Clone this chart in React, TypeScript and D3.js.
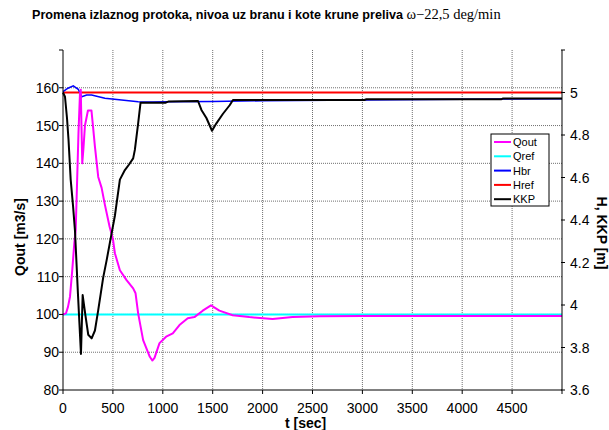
import React from "react";
import * as d3 from "d3";

// ---- data ----
const xTicks = [0, 500, 1000, 1500, 2000, 2500, 3000, 3500, 4000, 4500];
const leftTicks = [80, 90, 100, 110, 120, 130, 140, 150, 160];
const rightTicks = [3.6, 3.8, 4.0, 4.2, 4.4, 4.6, 4.8, 5.0];

const qoutT = [0, 30, 50, 70, 93, 113, 127, 140, 155, 170, 178, 185, 193, 205, 220, 250, 285, 300, 320, 353, 387, 420, 467, 500, 520, 570, 637, 703, 727, 753, 803, 870, 895, 917, 967, 1033, 1100, 1167, 1250, 1317, 1400, 1483, 1567, 1700, 1867, 2100, 2300, 2567, 3000, 4000, 5000];
const qoutV = [100, 100.3, 102, 104.7, 111.8, 118.8, 122.3, 134, 148, 158.5, 159.5, 150, 140, 144, 150, 154, 154, 150, 144.4, 136.4, 133.5, 129, 123.2, 120, 116.2, 111.7, 109.1, 106.9, 105.6, 100.3, 93.2, 88.8, 87.8, 88.5, 92.4, 94.1, 95, 97.2, 99, 99.3, 101, 102.4, 101, 99.8, 99.3, 98.8, 99.3, 99.5, 99.6, 99.6, 99.6];

const qref = 100;
const href = 5.0;

const hbrT = [0, 50, 103, 153, 187, 237, 287, 420, 587, 753, 900, 1050, 1500, 2000, 3000, 4000, 5000];
const hbrV = [5.004, 5.02, 5.031, 5.015, 4.98, 4.988, 4.988, 4.973, 4.965, 4.957, 4.955, 4.957, 4.958, 4.961, 4.965, 4.968, 4.97];

const kkpT = [0, 20, 40, 55, 77, 100, 120, 150, 180, 197, 225, 253, 287, 320, 353, 403, 437, 487, 520, 570, 620, 660, 703, 720, 753, 777, 1030, 1060, 1353, 1387, 1437, 1493, 1537, 1603, 1670, 1703, 3020, 3040, 4390, 4410, 5000];
const kkpV = [5.0, 4.98, 4.88, 4.78, 4.59, 4.47, 4.35, 4.05, 3.77, 4.047, 3.95, 3.86, 3.843, 3.88, 3.976, 4.13, 4.21, 4.337, 4.42, 4.59, 4.635, 4.66, 4.69, 4.73, 4.855, 4.952, 4.952, 4.958, 4.96, 4.918, 4.88, 4.82, 4.855, 4.9, 4.94, 4.965, 4.965, 4.968, 4.968, 4.972, 4.972];

const legendNames = ["Qout", "Qref", "Hbr", "Href", "KKP"];
const legendColors = ["#ff00ff", "#00ffff", "#0000ff", "#ff0000", "#000000"];

export default function App() {
  const W = 609, H = 430;
  const L = 63, R = 562, T = 50, B = 390;
  const x = d3.scaleLinear().domain([0, 5000]).range([L, R]);
  const yL = d3.scaleLinear().domain([80, 170]).range([B, T]);
  const yR = d3.scaleLinear().domain([3.6, 5.2]).range([B, T]);
  const font = "Liberation Sans, Arial, sans-serif";

  const lineL = d3.line<[number, number]>().x(d => x(d[0])).y(d => yL(d[1]));
  const lineR = d3.line<[number, number]>().x(d => x(d[0])).y(d => yR(d[1]));
  const qout = lineL(qoutT.map((t, i) => [t, qoutV[i]]))!;
  const hbr = lineR(hbrT.map((t, i) => [t, hbrV[i]]))!;
  const kkp = lineR(kkpT.map((t, i) => [t, kkpV[i]]))!;

  const fmtR = (v: number) => String(Math.round(v * 10) / 10);

  return (
    <svg width={W} height={H} style={{ position: "absolute", left: 0, top: 0, background: "#fff" }}>
      <rect x={0} y={0} width={W} height={H} fill="#fff" />
      {/* title */}
      <text x={32} y={19} fontFamily={font} fontSize={12.6} fontWeight="bold" fill="#000">
        Promena izlaznog protoka, nivoa uz branu i kote krune preliva{" "}
        <tspan fontFamily="Liberation Serif, Times New Roman, serif" fontWeight="normal" fontSize={14.5}>ω−22,5 deg/min</tspan>
      </text>

      {/* grid */}
      {leftTicks.filter(v => v > 80).map(v => (
        <line key={"gh" + v} x1={L} x2={R} y1={yL(v)} y2={yL(v)} stroke="#707070" strokeWidth={1} strokeDasharray="1,1" />
      ))}
      {xTicks.filter(v => v > 0).map(v => (
        <line key={"gv" + v} x1={x(v)} x2={x(v)} y1={T} y2={B} stroke="#707070" strokeWidth={1} strokeDasharray="1,1" />
      ))}

      {/* series */}
      <line x1={x(0)} x2={x(5000)} y1={yL(qref)} y2={yL(qref)} stroke="#00ffff" strokeWidth={2} />
      <line x1={x(0)} x2={x(5000)} y1={yR(href)} y2={yR(href)} stroke="#ff0000" strokeWidth={2} />
      <path d={hbr} fill="none" stroke="#0000ff" strokeWidth={1.5} />
      <path d={qout} fill="none" stroke="#ff00ff" strokeWidth={2} strokeLinejoin="round" />
      <path d={kkp} fill="none" stroke="#000000" strokeWidth={2} strokeLinejoin="round" />

      {/* axes */}
      <line x1={L} x2={L} y1={T} y2={B} stroke="#000" strokeWidth={1} />
      <line x1={R} x2={R} y1={T} y2={B} stroke="#000" strokeWidth={1} />
      <line x1={L} x2={R} y1={B} y2={B} stroke="#000" strokeWidth={1} />
      {[...leftTicks, 170].map(v => (
        <line key={"lt" + v} x1={L - 4} x2={L} y1={yL(v)} y2={yL(v)} stroke="#000" />
      ))}
      {leftTicks.map(v => (
        <text key={"ll" + v} x={L - 4} y={yL(v)} dy="0.36em" textAnchor="end" fontFamily={font} fontSize={14}>{v}</text>
      ))}
      {[...rightTicks, 5.2].map(v => (
        <line key={"rt" + v} x1={R - 1} x2={R + 3} y1={yR(v)} y2={yR(v)} stroke="#000" />
      ))}
      {rightTicks.map(v => (
        <text key={"rl" + v} x={R + 8} y={yR(v)} dy="0.36em" textAnchor="start" fontFamily={font} fontSize={14}>{fmtR(v)}</text>
      ))}
      {[...xTicks, 5000].map(v => (
        <line key={"xt" + v} x1={x(v)} x2={x(v)} y1={B} y2={B + 4} stroke="#000" />
      ))}
      {xTicks.map(v => (
        <text key={"xl" + v} x={x(v)} y={413} textAnchor="middle" fontFamily={font} fontSize={14}>{v}</text>
      ))}

      {/* axis titles */}
      <text x={285} y={428} fontFamily={font} fontSize={14} fontWeight="bold">t [sec]</text>
      <text transform="translate(25,237) rotate(-90)" textAnchor="middle" fontFamily={font} fontSize={14} fontWeight="bold">Qout [m3/s]</text>
      <text transform="translate(597,233) rotate(90)" textAnchor="middle" fontFamily={font} fontSize={14} fontWeight="bold">H, KKP [m]</text>

      {/* legend */}
      <rect x={491} y={134} width={58} height={72} fill="#fff" stroke="#000" strokeWidth={1} />
      {legendNames.map((n, i) => (
        <g key={n}>
          <line x1={494} x2={511} y1={142 + i * 14.3} y2={142 + i * 14.3} stroke={legendColors[i]} strokeWidth={2} />
          <text x={513} y={142 + i * 14.3} dy="0.36em" fontFamily={font} fontSize={11}>{n}</text>
        </g>
      ))}
    </svg>
  );
}
